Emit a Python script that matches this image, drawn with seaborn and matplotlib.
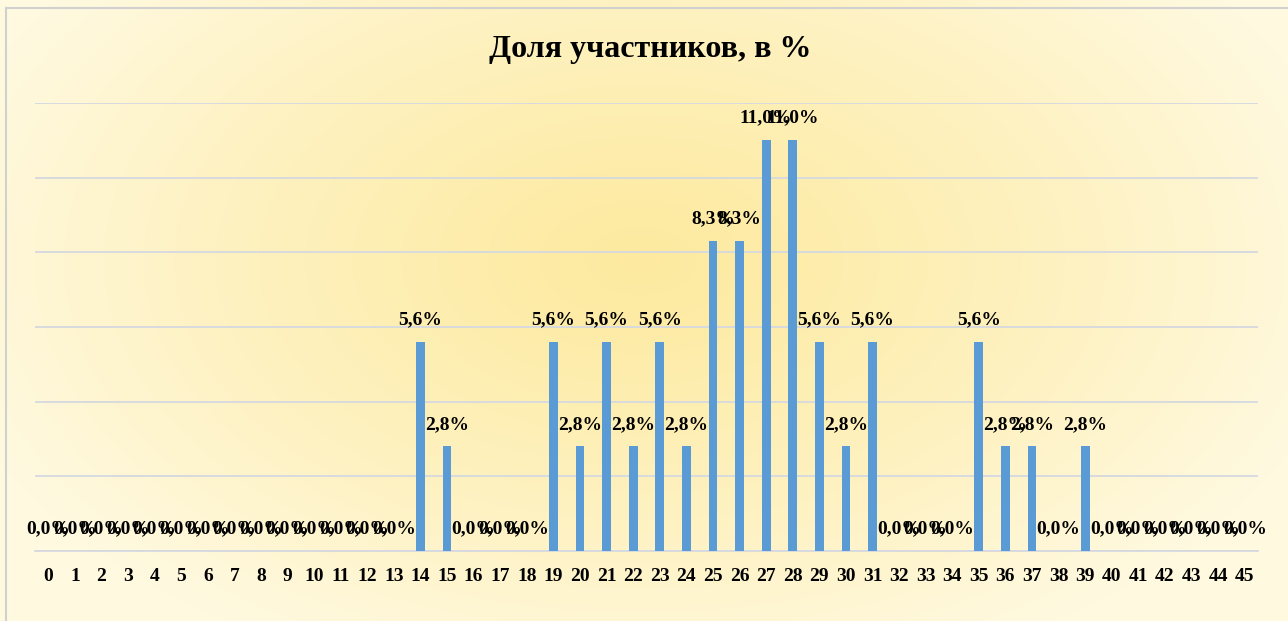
import numpy as np
import pandas as pd
import matplotlib
matplotlib.use("Agg")
import matplotlib.pyplot as plt
import seaborn as sns
from matplotlib.patches import Rectangle

categories = list(range(46))
values = [0.0] * 46
nonzero = {14: 5.6, 15: 2.8, 19: 5.6, 20: 2.8, 21: 5.6, 22: 2.8, 23: 5.6, 24: 2.8,
           25: 8.3, 26: 8.3, 27: 11.0, 28: 11.0, 29: 5.6, 30: 2.8, 31: 5.6,
           35: 5.6, 36: 2.8, 37: 2.8, 39: 2.8}
for k, v in nonzero.items():
    values[k] = v
title = "Доля участников, в %"

df = pd.DataFrame({"cat": [str(c) for c in categories], "val": values})

sns.set_theme(style="white")
plt.rcParams['font.family'] = ['Liberation Serif', 'DejaVu Serif']

fig = plt.figure(figsize=(12.88, 6.21), dpi=100)

# background gradient
bg = fig.add_axes([0, 0, 1, 1], zorder=0)
bg.set_axis_off()
h, w = 621, 1288
yy, xx = np.mgrid[0:h, 0:w]
cx, cy = 640, 260
d = np.sqrt(((xx - cx) / 720.0) ** 2 + ((yy - cy) / 440.0) ** 2)
d = np.clip(d, 0, 1) ** 1.2
c_center = np.array([253, 234, 160]) / 255.0
c_edge = np.array([255, 249, 224]) / 255.0
img = c_center[None, None, :] * (1 - d[..., None]) + c_edge[None, None, :] * d[..., None]
bg.imshow(img, aspect='auto', extent=[0, 1, 0, 1], origin='upper')
bg.set_xlim(0, 1)
bg.set_ylim(0, 1)
bg.add_patch(Rectangle((6 / w, -0.1), 2, 1.1 - 8 / h, transform=bg.transAxes,
                       fill=False, edgecolor='#d0d0d0', linewidth=1.5))

ax = fig.add_axes([35 / w, 1 - 551 / h, (1258 - 35) / w, (551 - 103) / h], zorder=1)
ax.patch.set_alpha(0)
sns.barplot(data=df, x="cat", y="val", order=[str(c) for c in categories],
            color='#5b9bd5', width=0.33, saturation=1, linewidth=0, ax=ax, zorder=3)
ax.set_ylim(0, 12)
ax.set_xlim(-0.5, 45.5)
ax.set_yticks(np.arange(0, 13, 2))
ax.yaxis.grid(True, color='#d5d8e0', linewidth=1.3, zorder=0)
ax.set_yticklabels([])
ax.tick_params(axis='y', length=0)
ax.tick_params(axis='x', length=0, pad=12, colors='black')
for lab in ax.get_xticklabels():
    lab.set_fontweight('bold')
    lab.set_fontsize(14)
    lab.set_color('black')
for s in ['top', 'right', 'left']:
    ax.spines[s].set_visible(False)
ax.spines['bottom'].set_color('#d5d8e0')
ax.spines['bottom'].set_linewidth(1.3)
ax.set_xlabel("")
ax.set_ylabel("")

for i, v in enumerate(values):
    ax.annotate(f"{v:.1f}%".replace('.', ','), xy=(i, v), xytext=(0, 16),
                textcoords='offset points', ha='center', va='center',
                fontsize=14, fontweight='bold', color='black', zorder=5)

fig.text(650 / w, 1 - 50 / h, title, ha='center', va='center',
         fontsize=23, fontweight='bold', color='black')

fig.savefig("out.png", dpi=100)
